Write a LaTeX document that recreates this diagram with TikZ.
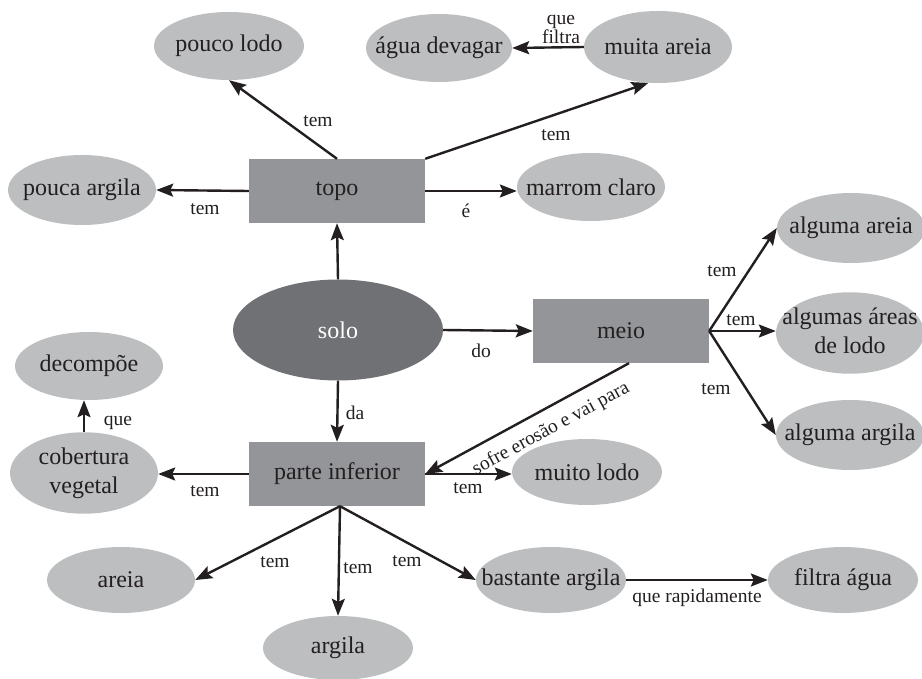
\documentclass[tikz,border=0pt]{standalone}
\usepackage{fontspec}
\setmainfont{Liberation Serif}
\usetikzlibrary{shapes.geometric,arrows.meta}
\definecolor{leafgray}{RGB}{188,190,192}
\definecolor{boxgray}{RGB}{148,149,153}
\definecolor{rootgray}{RGB}{112,113,117}
\definecolor{ink}{RGB}{35,31,32}
\newcommand{\zw}[1]{\makebox[0pt]{#1}}
\newcommand{\twoline}[2]{\makebox[0pt]{\begin{tabular}{@{}c@{}}#1\\#2\end{tabular}}}
\begin{document}
\begin{tikzpicture}[x=1pt,y=-1pt,
  leaf/.style={ellipse, fill=leafgray, inner sep=0pt, text=ink,
    minimum width=148pt, minimum height=68pt,
    font=\fontsize{24}{28.8}\selectfont},
  boxnode/.style={rectangle, fill=boxgray, inner sep=0pt, text=ink,
    minimum width=176pt, minimum height=64pt,
    font=\fontsize{24}{28.8}\selectfont},
  rootnode/.style={ellipse, fill=rootgray, inner sep=0pt, text=white,
    minimum width=210pt, minimum height=101pt,
    font=\fontsize{24}{28.8}\selectfont},
  arr/.style={line width=2.4pt, draw=ink,
    -{Stealth[length=17pt,width=13pt,inset=3pt]}},
  lbl/.style={font=\fontsize{19.5}{19}\selectfont, text=ink, inner sep=0pt, align=center}]
\useasboundingbox (0,0) rectangle (922,679);

% nodes
\node[leaf, minimum width=150pt] (pl) at (229,46) {\zw{pouco lodo}};
\node[leaf, minimum width=146pt] (ad) at (439,48) {\zw{água devagar}};
\node[leaf, minimum height=72pt] (ma) at (658,47) {\zw{muita areia}};
\node[leaf, minimum height=70pt] (pa) at (82,190) {\zw{pouca argila}};
\node[boxnode] (topo) at (337,191) {topo};
\node[leaf] (mc) at (591,187) {\zw{marrom claro}};
\node[leaf, minimum height=70pt] (aa) at (851,228) {\zw{alguma areia}};
\node[leaf, minimum height=74pt] (al) at (850,333) {\twoline{algumas áreas}{de lodo}};
\node[leaf, minimum height=70pt] (ag) at (850,435) {\zw{alguma argila}};
\node[rootnode] (solo) at (338,330) {solo};
\node[boxnode] (meio) at (621,331) {meio};
\node[leaf] (dc) at (89,366) {\zw{decompõe}};
\node[leaf, minimum height=70pt] (cv) at (84,473) {\twoline{cobertura}{vegetal}};
\node[boxnode] (pi) at (337,474) {parte inferior};
\node[leaf, minimum width=150pt, minimum height=66pt] (ml) at (587,472) {\zw{muito lodo}};
\node[leaf, minimum height=66pt] (ar) at (121,580) {\zw{areia}};
\node[leaf, minimum width=150pt, minimum height=64pt] (gl) at (338,648) {\zw{argila}};
\node[leaf, minimum width=150pt, minimum height=66pt] (ba) at (551,580) {\zw{bastante argila}};
\node[leaf, minimum width=150pt, minimum height=66pt] (fa) at (843,580) {\zw{filtra água}};

% connectors
\draw[arr] (topo.north) -- (pl.south) node[lbl] at (318,121) {tem};
\draw[arr] (topo.west) -- (pa.east) node[lbl] at (205,209) {tem};
\draw[arr] (topo.north east) -- (ma.255) node[lbl] at (556,135) {tem};
\draw[arr] (topo.east) -- (mc.west |- topo.east) node[lbl] at (466,211) {é};
\draw[arr] (ma.west) -- (ad.east) node[lbl] at (561,29) {que\\filtra};
\draw[arr] (solo.north) -- (topo.south);
\draw[arr] (solo.east) -- (meio.west) node[lbl] at (481,351) {do};
\draw[arr] (solo.south) -- (pi.north) node[lbl] at (355,413) {da};
\draw[arr] (meio.east) -- (aa.west) node[lbl] at (722,271) {tem};
\draw[arr] (meio.east) -- (al.west |- meio.east) node[lbl] at (741,320) {tem};
\draw[arr] (meio.east) -- (ag.west) node[lbl] at (716,389) {tem};
\draw[arr] ([xshift=8pt]meio.south) -- (pi.east)
  node[lbl, rotate=28.5] at (551,429) {sofre erosão e vai para};
\draw[arr] (pi.west) -- (cv.east |- pi.west) node[lbl] at (205,491) {tem};
\draw[arr] (cv.north) -- (dc.south -| cv.north) node[lbl] at (118,423) {que};
\draw[arr] (pi.east) -- (ml.west |- pi.east) node[lbl] at (468,488) {tem};
\draw[arr] ([xshift=3pt]pi.south) -- (ar.east) node[lbl] at (275,562) {tem};
\draw[arr] ([xshift=3pt]pi.south) -- (gl.north) node[lbl] at (358,568) {tem};
\draw[arr] ([xshift=3pt]pi.south) -- (ba.west) node[lbl] at (407,561) {tem};
\draw[arr] (ba.east) -- (fa.west) node[lbl] at (697,598) {que rapidamente};
\end{tikzpicture}
\end{document}
